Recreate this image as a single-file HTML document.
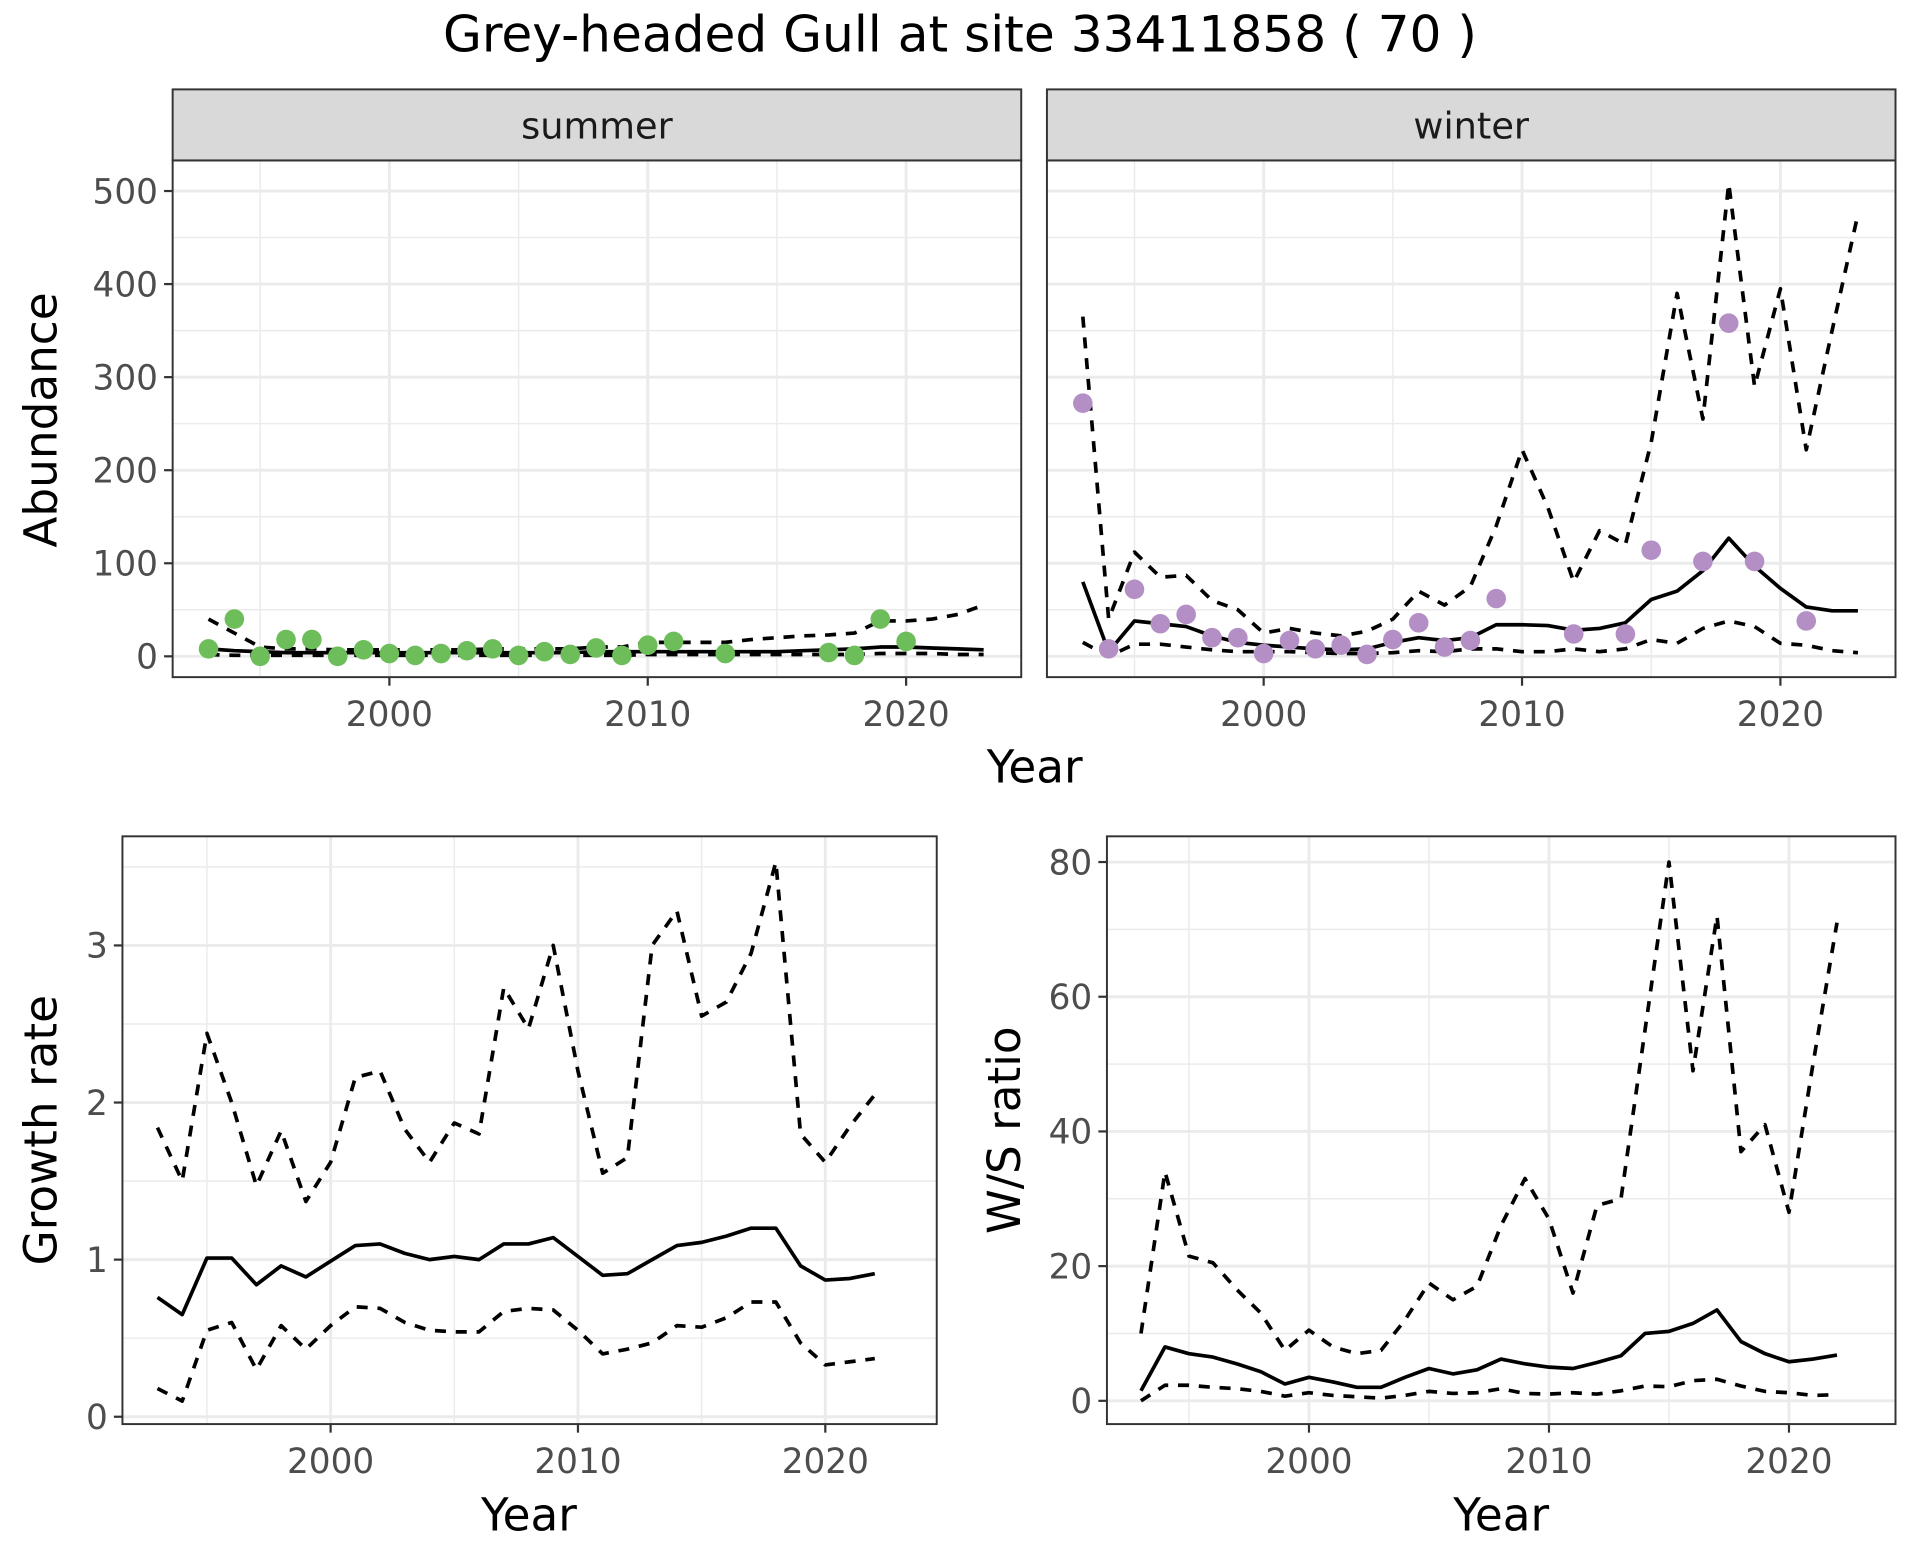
<!DOCTYPE html>
<html><head><meta charset="utf-8"><style>
html,body{margin:0;padding:0;background:#fff;}
svg{display:block;font-family:"DejaVu Sans","Liberation Sans",sans-serif;}
</style></head><body>
<svg id="chart" width="1920" height="1560" viewBox="0 0 1568 1274" xmlns="http://www.w3.org/2000/svg">
<text x="784" y="42" font-size="41" text-anchor="middle" fill="#000">Grey-headed Gull at site 33411858 ( 70 )</text>
</svg>
<script>
// ---- data ----
const sumPtYears=[1993,1994,1995,1996,1997,1998,1999,2000,2001,2002,2003,2004,2005,2006,2007,2008,2009,2010,2011,2013,2017,2018,2019,2020];
const sumPtVals=[8,40,0,18,18,0,7,3,1,3,6,8,1,5,2,9,1,12,16,3,4,1,40,16];
const sumYears=[1993,1994,1995,1996,1997,1998,1999,2000,2001,2002,2003,2004,2005,2006,2007,2008,2009,2010,2011,2012,2013,2014,2015,2016,2017,2018,2019,2020,2021,2022,2023];
const sumMean=[8,6,5,4,4,4,4,4,4,4,4,4,4,4,4,5,5,5,5,5,5,5,5,6,7,8,10,10,9,8,7];
const sumUpper=[40,25,10,8,8,7,7,7,7,7,7,8,8,8,8,10,10,15,15,15,15,18,20,22,23,25,38,38,40,45,55];
const sumLower=[2,1,1,1,1,1,1,1,1,1,1,1,1,1,1,1,1,2,2,2,2,2,2,2,2,2,3,3,3,2,2];
const winPtYears=[1993,1994,1995,1996,1997,1998,1999,2000,2001,2002,2003,2004,2005,2006,2007,2008,2009,2012,2014,2015,2017,2018,2019,2021];
const winPtVals=[272,8,72,35,45,20,20,3,17,8,12,2,18,36,10,17,62,24,24,114,102,358,102,38];
const winYears=sumYears;
const winMean=[80,5,38,35,32,22,15,12,10,8,7,8,15,20,17,20,34,34,33,28,30,36,61,70,92,127,97,73,53,49,49];
const winUpper=[365,40,112,85,87,60,50,25,30,25,22,27,40,70,55,75,140,222,160,80,135,120,230,390,255,508,290,395,222,350,475];
const winLower=[15,0,13,13,10,7,5,5,5,4,3,3,4,6,5,8,8,5,5,8,5,8,18,14,30,38,32,14,12,6,4];
const grYears=[1993,1994,1995,1996,1997,1998,1999,2000,2001,2002,2003,2004,2005,2006,2007,2008,2009,2010,2011,2012,2013,2014,2015,2016,2017,2018,2019,2020,2021,2022];
const grMean=[0.76,0.65,1.01,1.01,0.84,0.96,0.89,0.99,1.09,1.10,1.04,1.00,1.02,1.00,1.10,1.10,1.14,1.02,0.90,0.91,1.00,1.09,1.11,1.15,1.20,1.20,0.96,0.87,0.88,0.91];
const grUpper=[1.84,1.50,2.44,2.00,1.47,1.82,1.37,1.62,2.16,2.20,1.83,1.62,1.87,1.80,2.73,2.47,3.00,2.20,1.55,1.65,3.00,3.22,2.55,2.64,2.95,3.53,1.80,1.62,1.85,2.05];
const grLower=[0.18,0.10,0.55,0.60,0.30,0.58,0.43,0.58,0.70,0.69,0.60,0.55,0.54,0.54,0.67,0.69,0.68,0.55,0.40,0.43,0.47,0.58,0.57,0.63,0.73,0.73,0.47,0.33,0.35,0.37];
const wsYears=grYears;
const wsMean=[1.5,8,7,6.5,5.5,4.3,2.5,3.5,2.8,2,2,3.5,4.8,4,4.6,6.2,5.5,5,4.8,5.7,6.7,10,10.3,11.5,13.5,8.8,7,5.8,6.2,6.8];
const wsUpper=[10,34,21.5,20.5,16.5,13,7.5,10.5,8,7,7.5,12,17.5,15,17,26,33,27,16,29,30,55,80,49,72,37,41,28,50,71];
const wsLower=[0,2.3,2.3,2,1.8,1.4,0.7,1.2,0.8,0.6,0.4,0.8,1.4,1.1,1.2,1.8,1.1,1.0,1.2,1.0,1.5,2.2,2.1,3.0,3.2,2.2,1.4,1.2,0.8,0.9];
const xTicks=[2000,2010,2020];
const xMinor=[1995,2005,2015];
const abTicks=[0,100,200,300,400,500];
const grTicks=[0,1,2,3];
const wsTicks=[0,20,40,60,80];

const NS="http://www.w3.org/2000/svg";
const svg=document.getElementById('chart');
function el(tag,attrs,parent,text){const e=document.createElementNS(NS,tag);for(const k in attrs)e.setAttribute(k,attrs[k]);if(text!==undefined)e.textContent=text;(parent||svg).appendChild(e);return e;}

function panel(name,L,R,T,B,xd,yd,yTicks,yMinor,showY){
  const g=el('g',{});
  
  
  const sx=v=>L+(v-xd[0])/(xd[1]-xd[0])*(R-L);
  const sy=v=>B-(v-yd[0])/(yd[1]-yd[0])*(B-T);
  el('rect',{x:L,y:T,width:R-L,height:B-T,fill:'#fff'},g);
  yMinor.forEach(v=>el('line',{x1:L,x2:R,y1:sy(v),y2:sy(v),stroke:'#ebebeb','stroke-width':1.2},g));
  xMinor.forEach(v=>el('line',{x1:sx(v),x2:sx(v),y1:T,y2:B,stroke:'#ebebeb','stroke-width':1.2},g));
  yTicks.forEach(v=>el('line',{x1:L,x2:R,y1:sy(v),y2:sy(v),stroke:'#ebebeb','stroke-width':2.4},g));
  xTicks.forEach(v=>el('line',{x1:sx(v),x2:sx(v),y1:T,y2:B,stroke:'#ebebeb','stroke-width':2.4},g));
  xTicks.forEach(v=>{
    el('line',{x1:sx(v),x2:sx(v),y1:B,y2:B+7,stroke:'#333','stroke-width':1.8},g);
    const t=el('text',{x:sx(v),y:B+40,'font-size':28,'text-anchor':'middle',fill:'#4d4d4d'},g,String(v));
    
    
  });
  if(showY) yTicks.forEach(v=>{
    el('line',{x1:L-7,x2:L,y1:sy(v),y2:sy(v),stroke:'#333','stroke-width':1.8},g);
    const t=el('text',{x:L-12,y:sy(v)+10,'font-size':28,'text-anchor':'end',fill:'#4d4d4d'},g,String(v));
    
    
  });
  return {g,sx,sy,L,R,T,B};
}
function line(p,xs,ys,dash,name){
  const d=xs.map((x,i)=>(i?'L':'M')+p.sx(x).toFixed(1)+','+p.sy(ys[i]).toFixed(1)).join(' ');
  const a={d:d,fill:'none',stroke:'#000','stroke-width':3,'stroke-linejoin':'round'};
  if(dash)a['stroke-dasharray']='9,8';
  const e=el('path',a,p.g);
  
  
}
function pts(p,xs,ys,col,name){
  xs.forEach((x,i)=>{
    const c=el('circle',{cx:p.sx(x),cy:p.sy(ys[i]),r:8,fill:col},p.g);
    
    
  });
}
function border(p){el('rect',{x:p.L,y:p.T,width:p.R-p.L,height:p.B-p.T,fill:'none',stroke:'#333','stroke-width':1.6},p.g);}
function strip(p,label,name){
  const s=el('rect',{x:p.L,y:73,width:p.R-p.L,height:58,fill:'#d9d9d9',stroke:'#333','stroke-width':1.6},p.g);
  
  
  const t=el('text',{x:(p.L+p.R)/2,y:113,'font-size':30,'text-anchor':'middle',fill:'#1a1a1a'},p.g,label);
  
  
}
const abMinor=[50,150,250,350,450];
const topXd=[2000-(318-141)/21.1,2000+(834-318)/21.1];
const topYd=[-(553-536)/0.76,(536-131)/0.76];
const ps=panel('summer-panel',141,834,131,553,topXd,topYd,abTicks,abMinor,true);
line(ps,sumYears,sumUpper,true,'summer-upper-ci');
line(ps,sumYears,sumLower,true,'summer-lower-ci');
line(ps,sumYears,sumMean,false,'summer-mean-line');
pts(ps,sumPtYears,sumPtVals,'#6dbd5a','summer-count-point');
border(ps);strip(ps,'summer','summer');
const topXd2=[2000-(1032-855)/21.1,2000+(1548-1032)/21.1];
const pw=panel('winter-panel',855,1548,131,553,topXd2,topYd,abTicks,abMinor,false);
line(pw,winYears,winUpper,true,'winter-upper-ci');
line(pw,winYears,winLower,true,'winter-lower-ci');
line(pw,winYears,winMean,false,'winter-mean-line');
pts(pw,winPtYears,winPtVals,'#b48fc6','winter-count-point');
border(pw);strip(pw,'winter','winter');

const grXd=[2000-(270-100)/20.2,2000+(765-270)/20.2];
const grYd=[-(1163-1157)/128.3,(1157-683)/128.3];
const pg=panel('growth-rate-panel',100,765,683,1163,grXd,grYd,grTicks,[0.5,1.5,2.5,3.5],true);
line(pg,grYears,grUpper,true,'growth-upper-ci');
line(pg,grYears,grLower,true,'growth-lower-ci');
line(pg,grYears,grMean,false,'growth-mean-line');
border(pg);
const wsXd=[2000-(1069-904)/19.6,2000+(1548-1069)/19.6];
const wsYd=[-(1163-1144)/5.5,(1144-683)/5.5];
const pr=panel('ws-ratio-panel',904,1548,683,1163,wsXd,wsYd,wsTicks,[10,30,50,70],true);
line(pr,wsYears,wsUpper,true,'ws-upper-ci');
line(pr,wsYears,wsLower,true,'ws-lower-ci');
line(pr,wsYears,wsMean,false,'ws-mean-line');
border(pr);

function label(x,y,txt,rot,name){
  const a={x:x,y:y,'font-size':37,'text-anchor':'middle',fill:'#000'};
  if(rot)a.transform='rotate(-90 '+x+' '+y+')';
  const t=el('text',a,svg,txt);
  
  
}
label(845,639,'Year',false,'top-x-axis-title');
label(46,343,'Abundance',true,'abundance-y-axis-title');
label(432,1250,'Year',false,'growth-x-axis-title');
label(1226,1250,'Year',false,'ws-x-axis-title');
label(46,923,'Growth rate',true,'growth-y-axis-title');
label(833,923,'W/S ratio',true,'ws-y-axis-title');
</script>
</body></html>
